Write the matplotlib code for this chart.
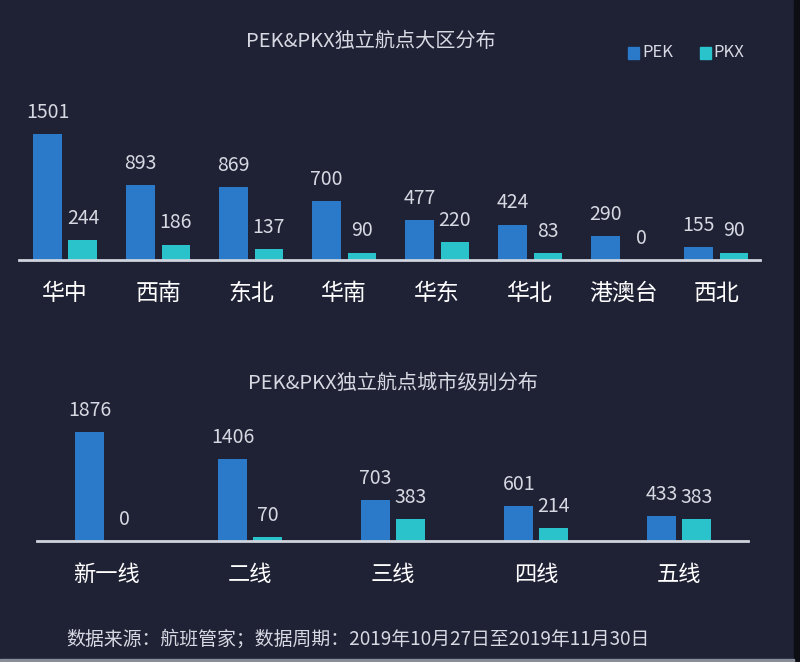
import matplotlib
matplotlib.use('Agg')
import matplotlib.pyplot as plt
import numpy as np

plt.rcParams['font.family'] = ['Noto Sans CJK SC', 'DejaVu Sans']

# data
regions = ['华中', '西南', '东北', '华南', '华东', '华北', '港澳台', '西北']
region_pek = [1501, 893, 869, 700, 477, 424, 290, 155]
region_pkx = [244, 186, 137, 90, 220, 83, 0, 90]

tiers = ['新一线', '二线', '三线', '四线', '五线']
tier_pek = [1876, 1406, 703, 601, 433]
tier_pkx = [0, 70, 383, 214, 383]

title_top = 'PEK&PKX独立航点大区分布'
title_bottom = 'PEK&PKX独立航点城市级别分布'
footer = '数据来源：航班管家；数据周期：2019年10月27日至2019年11月30日'

BG = '#1f2135'
PEK_C = '#2a7ac9'
PKX_C = '#2bc3cb'
TXT = '#d6d9e2'
LINE = '#d0d4de'

fig = plt.figure(figsize=(8, 6.62), dpi=100)
fig.patch.set_facecolor(BG)


def draw(ax, cats, pek, pkx, width, off, ymax, xlim, fs):
    x = np.arange(len(cats))
    b1 = ax.bar(x - off, pek, width, color=PEK_C)
    b2 = ax.bar(x + off, pkx, width, color=PKX_C)
    ax.bar_label(b1, padding=8, color=TXT, fontsize=14)
    ax.bar_label(b2, padding=8, color=TXT, fontsize=14)
    ax.set_facecolor(BG)
    ax.set_ylim(0, ymax)
    ax.set_xlim(*xlim)
    ax.set_xticks(x)
    ax.set_xticklabels(cats, fontsize=fs, color='white')
    ax.tick_params(axis='x', length=0, pad=16)
    ax.set_yticks([])
    for s in ['top', 'right', 'left']:
        ax.spines[s].set_visible(False)
    ax.spines['bottom'].set_color(LINE)
    ax.spines['bottom'].set_linewidth(2)


ax1 = fig.add_axes([0.024, 0.607, 0.926, 0.216])
draw(ax1, regions, region_pek, region_pkx, 0.31, 0.19, 1700, (-0.495, 7.47), 16.5)

ax2 = fig.add_axes([0.046, 0.183, 0.889, 0.184])
draw(ax2, tiers, tier_pek, tier_pkx, 0.203, 0.122, 2100, (-0.49, 4.48), 16)

fig.text(0.464, 0.938, title_top, ha='center', va='center', fontsize=14.5, color=TXT)
fig.text(0.491, 0.421, title_bottom, ha='center', va='center', fontsize=14.5, color=TXT)

# legend
fig.patches.append(plt.Rectangle((0.785, 0.911), 0.014, 0.018, transform=fig.transFigure, color=PEK_C))
fig.text(0.803, 0.920, 'PEK', ha='left', va='center', fontsize=12, color=TXT)
fig.patches.append(plt.Rectangle((0.875, 0.911), 0.014, 0.018, transform=fig.transFigure, color=PKX_C))
fig.text(0.892, 0.920, 'PKX', ha='left', va='center', fontsize=12, color=TXT)

fig.text(0.083, 0.034, footer, ha='left', va='center', fontsize=13.6, color=TXT)

# screenshot edges
fig.patches.append(plt.Rectangle((0.993, 0), 0.007, 1, transform=fig.transFigure, color='#0d0d14'))
fig.patches.append(plt.Rectangle((0, 0), 0.993, 0.005, transform=fig.transFigure, color='#8a8e9a'))

fig.savefig('out.png', dpi=100, facecolor=BG)
